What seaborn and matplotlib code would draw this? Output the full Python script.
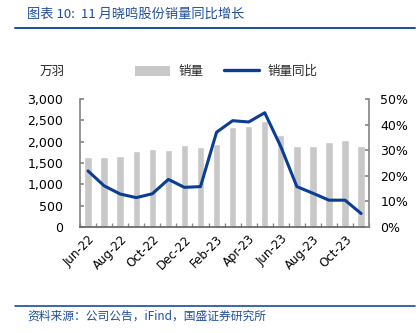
import matplotlib
matplotlib.use("Agg")
import matplotlib.pyplot as plt
from matplotlib.lines import Line2D
from matplotlib.patches import Patch
from matplotlib.ticker import FuncFormatter, FixedLocator
import seaborn as sns
import pandas as pd

months = ["Jun-22", "Jul-22", "Aug-22", "Sep-22", "Oct-22", "Nov-22", "Dec-22",
          "Jan-23", "Feb-23", "Mar-23", "Apr-23", "May-23", "Jun-23", "Jul-23",
          "Aug-23", "Sep-23", "Oct-23", "Nov-23"]
sales = [1640, 1630, 1670, 1790, 1830, 1800, 1930, 1870, 1950, 2340, 2375, 2485,
         2160, 1900, 1900, 1985, 2030, 1900]
yoy = [21.9, 16.1, 12.9, 11.5, 13.0, 18.6, 15.5, 15.8, 37.0, 41.5, 41.0, 44.6,
       31.4, 15.8, 13.2, 10.5, 10.5, 5.3]

BAR = "#c8c8c8"
LINE = "#0b3d95"
BLUE_TXT = "#1f4e9c"

sns.set_theme(style="white")
plt.rcParams["font.family"] = ["DejaVu Sans", "Noto Sans CJK SC"]

df = pd.DataFrame({"month": months, "sales": sales, "yoy": yoy, "pos": range(len(months))})

fig = plt.figure(figsize=(4.19, 3.33), dpi=100)
ax = fig.add_axes([0.191, 0.318, 0.690, 0.385])
sns.barplot(data=df, x="pos", y="sales", color=BAR, width=0.46, ax=ax,
            saturation=1, native_scale=True)
ax.set_xlim(-0.5, len(months) - 0.5)
ax.set_ylim(0, 3000)
ax.set_yticks(range(0, 3001, 500))
ax.yaxis.set_major_formatter(FuncFormatter(lambda v, p: f"{int(v):,}"))
ax.set_xlabel("")
ax.set_ylabel("")

ax2 = ax.twinx()
sns.lineplot(data=df, x="pos", y="yoy", color=LINE, linewidth=2.2, ax=ax2)
ax2.set_ylim(0, 50)
ax2.set_yticks(range(0, 51, 10))
ax2.yaxis.set_major_formatter(FuncFormatter(lambda v, p: f"{int(v)}%"))
ax2.set_ylabel("")
ax2.set_xlim(-0.5, len(months) - 0.5)

# x labels every two months, tick marks on category boundaries
ax.xaxis.set_major_locator(FixedLocator(list(range(0, len(months), 2))))
ax.set_xticklabels(months[::2], rotation=45, ha="right", va="top",
                   rotation_mode="anchor", fontsize=8.5, color="black")
ax.xaxis.set_minor_locator(FixedLocator([i + 0.5 for i in range(-1, len(months))]))
ax.tick_params(axis="x", which="major", length=0, pad=4)
ax.tick_params(axis="x", which="minor", length=3, color="#888888", direction="in",
               bottom=True)
ax2.set_xlabel("")

for a in (ax, ax2):
    for s in a.spines.values():
        s.set_visible(False)
ax.spines["left"].set_visible(True)
ax.spines["left"].set_color("#888888")
ax.spines["bottom"].set_visible(True)
ax.spines["bottom"].set_color("#666666")
ax2.spines["right"].set_visible(True)
ax2.spines["right"].set_color("#888888")
ax.tick_params(axis="y", labelsize=9, colors="black", direction="in", length=3,
               color="#888888", left=True, pad=12)
ax2.tick_params(axis="y", labelsize=9, colors="black", direction="in", length=3,
                color="#888888", right=True, pad=8)
ax.grid(False)
ax2.grid(False)

# unit label and legend
cjk = ["Noto Sans CJK SC", "DejaVu Sans"]
fig.text(0.095, 0.785, "万羽", fontsize=9, family=cjk, va="center")
handles = [Patch(facecolor=BAR, edgecolor="none"),
           Line2D([0], [0], color=LINE, linewidth=2.4)]
leg = fig.legend(handles, ["销量", "销量同比"], loc="center", ncol=2,
                 bbox_to_anchor=(0.54, 0.785), frameon=False,
                 prop={"family": cjk, "size": 9}, handlelength=2.8,
                 handleheight=0.9, columnspacing=1.6, handletextpad=0.7)

# title and source
fig.text(0.065, 0.957, "图表 10:  11 月晓鸣股份销量同比增长", fontsize=9.5,
         family=cjk, color=BLUE_TXT, va="center", style="italic")
fig.add_artist(Line2D([0.036, 0.99], [0.916, 0.916], color="#1a4d9c", linewidth=1.4))
fig.add_artist(Line2D([0.036, 0.99], [0.081, 0.081], color="#1a4d9c", linewidth=1.2))
fig.text(0.065, 0.052, "资料来源：公司公告，iFind，国盛证券研究所", fontsize=8.5,
         family=cjk, color=BLUE_TXT, va="center", style="italic")

fig.savefig("out.png", dpi=100)
